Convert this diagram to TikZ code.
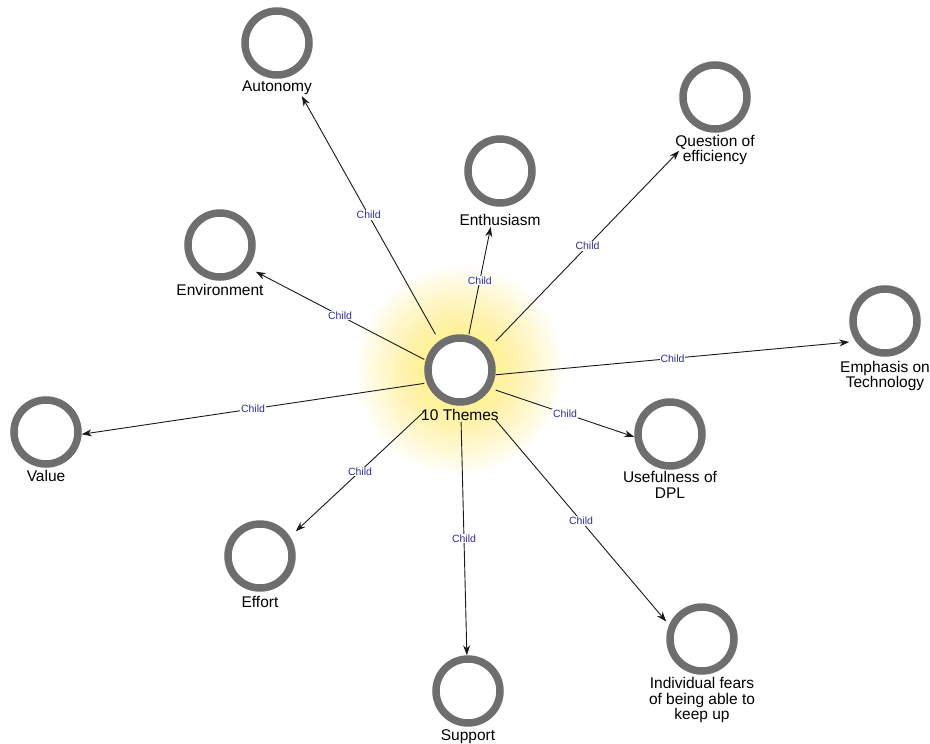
\documentclass[tikz,border=0pt]{standalone}
\usepackage{fontspec}
\setmainfont{Liberation Sans}
\usetikzlibrary{arrows.meta,fit}
\definecolor{ringgray}{HTML}{6E6E6E}
\definecolor{childblue}{HTML}{2B2B9E}
\definecolor{glowy}{HTML}{FFF200}
\begin{document}
\begin{tikzpicture}[x=1pt,y=-1pt,
 ring/.style={circle,draw=ringgray,line width=7.5pt,fill=white,minimum size=64pt,inner sep=0pt},
 lbl/.style={font=\fontsize{15.5}{15.5}\selectfont,align=center,inner sep=1pt},
 grp/.style={rectangle,inner sep=0pt,outer sep=0pt},
 conn/.style={draw=black!90,line width=0.9pt,-{Stealth[length=10pt,width=7pt]}},
 child/.style={font=\fontsize{10.5}{12}\selectfont,text=childblue,fill=white,inner sep=1pt}]
\fill[white] (0,0) rectangle (930,744);
\useasboundingbox (0,0) rectangle (930,744);
% glow
\foreach \r in {104,100,...,36} {\fill[glowy,opacity=0.026] (460,370) circle (\r);}
% theme nodes
\node[ring] (cenC) at (460,370) {};
\node[lbl] (cenL) at (460,415) {10 Themes};
\node[grp,fit=(cenC)(cenL.south)] (cen) {};

\node[ring] (autC) at (277,43) {};
\node[lbl] (autL) at (277,88) {Autonomy};
\node[grp,fit=(autC)(autL.south)] (aut) {};

\node[ring] (entC) at (500,171) {};
\node[lbl] (entL) at (500,220) {Enthusiasm};
\node[grp,fit=(entC)(entL.south)] (ent) {};

\node[ring] (queC) at (715,97) {};
\node[lbl] (queL) at (715,150) {Question of\\efficiency};
\node[grp,fit=(queC)(queL.south)] (que) {};

\node[ring] (envC) at (220,245) {};
\node[lbl] (envL) at (220,290) {Environment};
\node[grp,fit=(envC)(envL.south)] (env) {};

\node[ring] (empC) at (885,321) {};
\node[lbl] (empL) at (885,376) {Emphasis on\\Technology};
\node[grp,fit=(empC)(empL.south)] (emp) {};

\node[ring] (valC) at (46,432) {};
\node[lbl] (valL) at (46,476) {Value};
\node[grp,fit=(valC)(valL.south)] (val) {};

\node[ring] (useC) at (670,434) {};
\node[lbl] (useL) at (670,485) {Usefulness of\\DPL};
\node[grp,fit=(useC)(useL.south)] (use) {};

\node[ring] (effC) at (260,556) {};
\node[lbl] (effL) at (260,602) {Effort};
\node[grp,fit=(effC)(effL.south)] (eff) {};

\node[ring] (supC) at (468,691) {};
\node[lbl] (supL) at (468,737) {Support};
\node[grp,fit=(supC)(supL.south)] (sup) {};

\node[ring] (indC) at (702,639) {};
\node[lbl] (indL) at (702,700) {Individual fears\\of being able to\\keep up};
\node[grp,fit=(indC)(indL.south)] (ind) {};

% connectors
\foreach \t in {aut,ent,que,env,emp,val,use,eff,sup,ind}{
  \draw[conn] (cen) -- node[child]{Child} (\t);
}
\end{tikzpicture}
\end{document}
